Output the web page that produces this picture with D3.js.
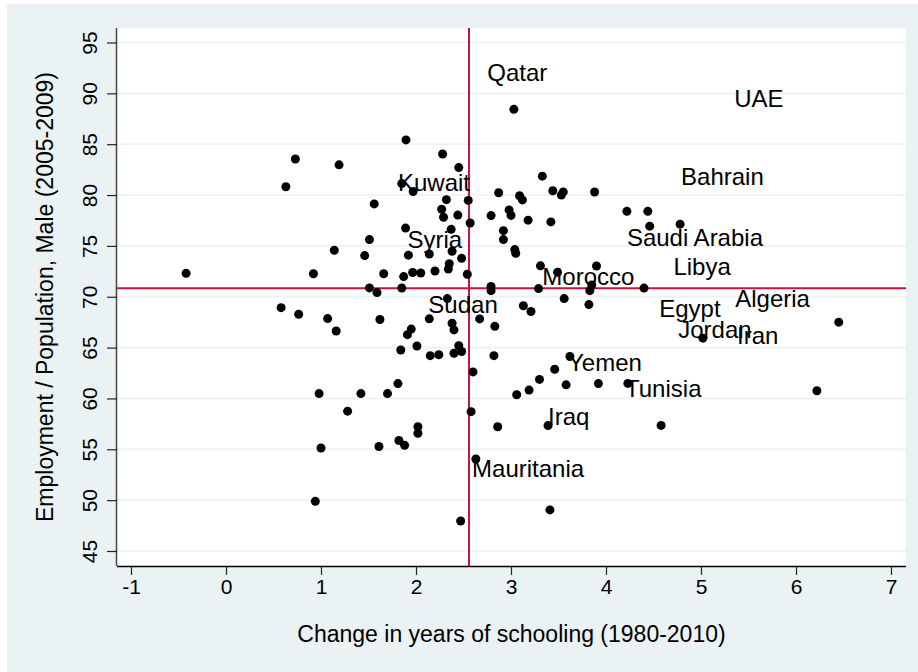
<!DOCTYPE html>
<html>
<head>
<meta charset="utf-8">
<script src="https://cdn.jsdelivr.net/npm/d3@7"></script>
<style>
  html, body { margin: 0; padding: 0; background: #ffffff; }
  svg { display: block; font-family: "Liberation Sans", Arial, Helvetica, sans-serif; }
</style>
</head>
<body>
<svg id="chart" width="918" height="672"></svg>
<script>
// ---- Data ----
const schoolingChange = [
  -0.42, 0.63, 0.73, 1.19, 0.92, 1.14, 1.56, 1.51, 1.46, 1.66, 1.51, 1.59, 0.58, 0.765, 1.07, 1.16, 1.62,
  0.98, 1.42, 1.70, 1.28, 1.00, 1.61, 0.94, 1.81, 1.82, 1.88, 2.02, 2.02, 1.84, 2.01, 1.91, 1.95, 2.15,
  2.24, 2.40, 2.45, 2.48, 2.40, 2.38, 2.14, 2.33, 1.85, 1.87, 1.965, 2.05, 2.20, 2.34, 2.35, 2.14, 1.92,
  2.38, 2.48, 2.54, 2.37, 1.89, 2.27, 2.29, 2.44, 2.32, 2.55, 2.57, 1.97, 1.85, 1.895, 2.28, 2.45, 3.03,
  2.87, 3.09, 3.12, 2.79, 2.98, 3.00, 3.18, 3.33, 3.44, 3.53, 3.55, 3.88, 3.42, 2.92, 2.92, 3.04, 3.05,
  3.31, 3.49, 3.90, 3.29, 2.79, 2.79, 3.13, 3.21, 3.56, 3.83, 3.85, 3.82, 2.67, 2.83, 2.82, 2.60, 2.58,
  2.86, 2.63, 2.47, 3.06, 3.19, 3.30, 3.46, 3.62, 3.58, 3.92, 4.23, 3.39, 4.58, 3.41, 4.22, 4.44, 4.46,
  4.78, 4.40, 5.02, 6.45, 6.22
];
const employmentRatio = [
  72.30, 80.82, 83.55, 82.97, 72.26, 74.57, 79.13, 75.62, 74.05, 72.26, 70.87, 70.41, 68.93, 68.28, 67.85, 66.63, 67.76,
  60.48, 60.48, 60.48, 58.75, 55.13, 55.27, 49.88, 61.46, 55.86, 55.39, 57.22, 56.58, 64.76, 65.16, 66.27, 66.82, 64.21,
  64.30, 64.45, 65.18, 64.62, 66.74, 67.39, 67.83, 69.82, 70.86, 71.98, 72.38, 72.33, 72.53, 72.72, 73.25, 74.20, 74.09,
  74.47, 73.78, 72.21, 76.63, 76.75, 78.60, 77.82, 78.03, 79.55, 79.47, 77.25, 80.35, 81.13, 85.42, 84.04, 82.70, 88.43,
  80.23, 79.93, 79.52, 77.98, 78.54, 78.00, 77.53, 81.86, 80.42, 80.00, 80.31, 80.30, 77.36, 76.50, 75.62, 74.64, 74.28,
  73.04, 72.40, 73.02, 70.80, 71.02, 70.60, 69.11, 68.55, 69.82, 70.60, 71.16, 69.23, 67.82, 67.09, 64.21, 62.61, 58.70,
  57.22, 54.05, 47.95, 60.36, 60.82, 61.87, 62.87, 64.12, 61.34, 61.46, 61.48, 57.33, 57.35, 49.04, 78.40, 78.40, 76.94,
  77.14, 70.85, 65.93, 67.50, 60.76
];

const countryNames = ["Qatar", "UAE", "Bahrain", "Kuwait", "Saudi Arabia", "Syria", "Libya", "Morocco", "Algeria",
  "Sudan", "Egypt", "Jordan", "Iran", "Yemen", "Tunisia", "Iraq", "Mauritania"];
const countryLabelX = [2.75, 5.35, 4.79, 1.81, 4.22, 1.91, 4.71, 3.33, 5.36, 2.13, 4.56, 4.76, 5.38, 3.60, 4.20, 3.39, 2.59];
const countryLabelY = [92.1, 89.47, 81.87, 81.28, 75.83, 75.63, 72.97, 71.97, 69.81, 69.22, 68.83, 66.78, 66.17, 63.53, 61.0, 58.2, 53.09];

const meanSchoolingChange = 2.558;
const meanEmploymentRatio = 70.83;

const xTickValues = [-1, 0, 1, 2, 3, 4, 5, 6, 7];
const yTickValues = [45, 50, 55, 60, 65, 70, 75, 80, 85, 90, 95];
const xTitle = "Change in years of schooling (1980-2010)";
const yTitle = "Employment / Population, Male (2005-2009)";

// ---- Layout ----
const svg = d3.select("#chart");
const W = 918, H = 672;
const plot = { left: 117, right: 906, top: 28, bottom: 566 };
const bg = "#eaf2f3";
const red = "#c8143c";

svg.append("rect").attr("x", 7).attr("y", 4).attr("width", W - 7).attr("height", H - 4).attr("fill", bg);
svg.append("rect").attr("x", plot.left).attr("y", plot.top)
  .attr("width", plot.right - plot.left).attr("height", plot.bottom - plot.top).attr("fill", "#ffffff");

const x = d3.scaleLinear().domain([-1.1474, 7.1579]).range([plot.left, plot.right]);
const y = d3.scaleLinear().domain([43.525, 96.426]).range([plot.bottom, plot.top]);

// gridlines
svg.append("g").selectAll("line").data(yTickValues).join("line")
  .attr("x1", plot.left).attr("x2", plot.right)
  .attr("y1", d => y(d)).attr("y2", d => y(d))
  .attr("stroke", bg).attr("stroke-width", 1.6);

// reference lines
svg.append("line").attr("x1", x(meanSchoolingChange)).attr("x2", x(meanSchoolingChange))
  .attr("y1", plot.top).attr("y2", plot.bottom).attr("stroke", red).attr("stroke-width", 2);
svg.append("line").attr("x1", plot.left).attr("x2", plot.right)
  .attr("y1", y(meanEmploymentRatio)).attr("y2", y(meanEmploymentRatio)).attr("stroke", red).attr("stroke-width", 2);

// axes
const fmt = d => String(d);
const xAxis = d3.axisBottom(x).tickValues(xTickValues).tickSize(9).tickPadding(4).tickFormat(fmt);
const gx = svg.append("g").attr("transform", `translate(0,${plot.bottom})`).call(xAxis);
gx.select(".domain").attr("d", `M${plot.left},0.5H${plot.right}`).attr("stroke", "#000").attr("stroke-width", 1.5);
gx.selectAll(".tick line").attr("stroke", "#222").attr("stroke-width", 1.2);
gx.selectAll(".tick text").attr("font-size", 21).attr("fill", "#000").attr("font-family", "Liberation Sans, Arial, sans-serif");

const yAxis = d3.axisLeft(y).tickValues(yTickValues).tickSize(10).tickPadding(8).tickFormat(fmt);
const gy = svg.append("g").attr("transform", `translate(${plot.left},0)`).call(yAxis);
gy.select(".domain").attr("d", `M-0.5,${plot.top}V${plot.bottom}`).attr("stroke", "#444").attr("stroke-width", 1.5);
gy.selectAll(".tick line").attr("stroke", "#222").attr("stroke-width", 1.2);
gy.selectAll(".tick text")
  .attr("font-size", 21).attr("fill", "#000").attr("font-family", "Liberation Sans, Arial, sans-serif")
  .attr("text-anchor", "middle").attr("x", null).attr("dy", null)
  .attr("transform", "translate(-20,0) rotate(-90)");

// points
const pts = schoolingChange.map((v, i) => ({ x: v, y: employmentRatio[i] }));
svg.append("g").selectAll("circle").data(pts).join("circle")
  .attr("cx", d => x(d.x)).attr("cy", d => y(d.y)).attr("r", 4.5).attr("fill", "#000");

// country labels
const labels = countryNames.map((n, i) => ({ name: n, x: countryLabelX[i], y: countryLabelY[i] }));
svg.append("g").selectAll("text").data(labels).join("text")
  .attr("x", d => x(d.x)).attr("y", d => y(d.y)).attr("dy", "0.36em")
  .attr("font-size", 24).attr("fill", "#000").text(d => d.name);

// axis titles
svg.append("text").attr("x", (plot.left + plot.right) / 2).attr("y", 642)
  .attr("text-anchor", "middle").attr("font-size", 23).attr("fill", "#000").text(xTitle);
svg.append("text").attr("transform", `translate(53,${(plot.top + plot.bottom) / 2}) rotate(-90)`)
  .attr("text-anchor", "middle").attr("font-size", 23).attr("fill", "#000").text(yTitle);
</script>
</body>
</html>
